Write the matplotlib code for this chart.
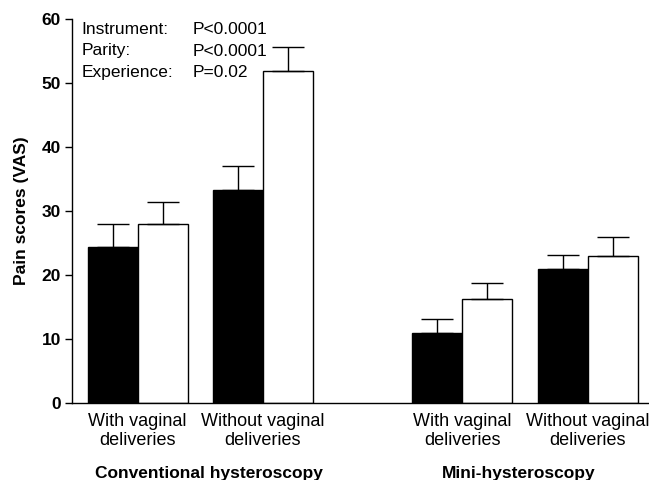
import matplotlib
matplotlib.use("Agg")
import matplotlib.pyplot as plt
import numpy as np

plt.rcParams['font.family'] = ['Liberation Sans', 'DejaVu Sans']

# Pain scores (VAS), mean and upper error (mean + SEM)
categories = ["With vaginal\ndeliveries", "Without vaginal\ndeliveries",
              "With vaginal\ndeliveries", "Without vaginal\ndeliveries"]
groups = ["Conventional hysteroscopy", "Mini-hysteroscopy"]
black_means = [24.4, 33.3, 10.9, 20.9]
black_err = [3.5, 3.7, 2.3, 2.3]
white_means = [28.0, 51.9, 16.25, 22.9]
white_err = [3.4, 3.7, 2.5, 3.1]
stats_names = ["Instrument:", "Parity:", "Experience:"]
stats_values = ["P<0.0001", "P<0.0001", "P=0.02"]
yticks = [0, 10, 20, 30, 40, 50, 60]

centers = np.array([0.0, 2.5, 6.5, 9.0])
w = 1.0

fig = plt.figure(figsize=(6.49, 4.80), dpi=100)
ax = fig.add_axes([72/649, 1-403/480, 1-72/649, 384/480])

ekw = dict(capsize=11.5, capthick=1.0, elinewidth=1.0, ecolor='black')
ax.bar(centers - w/2, black_means, width=w, color='black', edgecolor='black',
       linewidth=1.0, yerr=[np.zeros(4), black_err], error_kw=ekw, zorder=2)
ax.bar(centers + w/2, white_means, width=w, color='white', edgecolor='black',
       linewidth=1.0, yerr=[np.zeros(4), white_err], error_kw=ekw, zorder=2)

ax.set_xlim(-1.31, 10.23)
ax.set_ylim(0, 60)
ax.set_yticks(yticks)
ax.set_yticklabels([str(t) for t in yticks], fontweight='bold', fontsize=12.5)
ax.set_xticks([])
for s in ['top', 'right']:
    ax.spines[s].set_visible(False)
ax.spines['left'].set_linewidth(1.0)
ax.spines['bottom'].set_linewidth(1.0)
ax.tick_params(axis='y', direction='out', length=5, width=1.0, pad=3)

ax.set_ylabel("Pain scores (VAS)", fontweight='bold', fontsize=12.5, labelpad=9)

for c, lab in zip(centers, categories):
    ax.text(c, -1.5, lab, ha='center', va='top', fontsize=13,
            linespacing=1.2, clip_on=False)

ax.text(1.42, -9.9, groups[0], ha='center', va='top', fontsize=12.5,
        fontweight='bold', clip_on=False)
ax.text(7.62, -9.9, groups[1], ha='center', va='top', fontsize=12.5,
        fontweight='bold', clip_on=False)

for i, (n, v) in enumerate(zip(stats_names, stats_values)):
    y = 58.3 - i * 3.3
    ax.text(-1.12, y, n, ha='left', va='center', fontsize=12.5)
    ax.text(1.11, y, v, ha='left', va='center', fontsize=12.5)

fig.savefig("out.png", dpi=100)
